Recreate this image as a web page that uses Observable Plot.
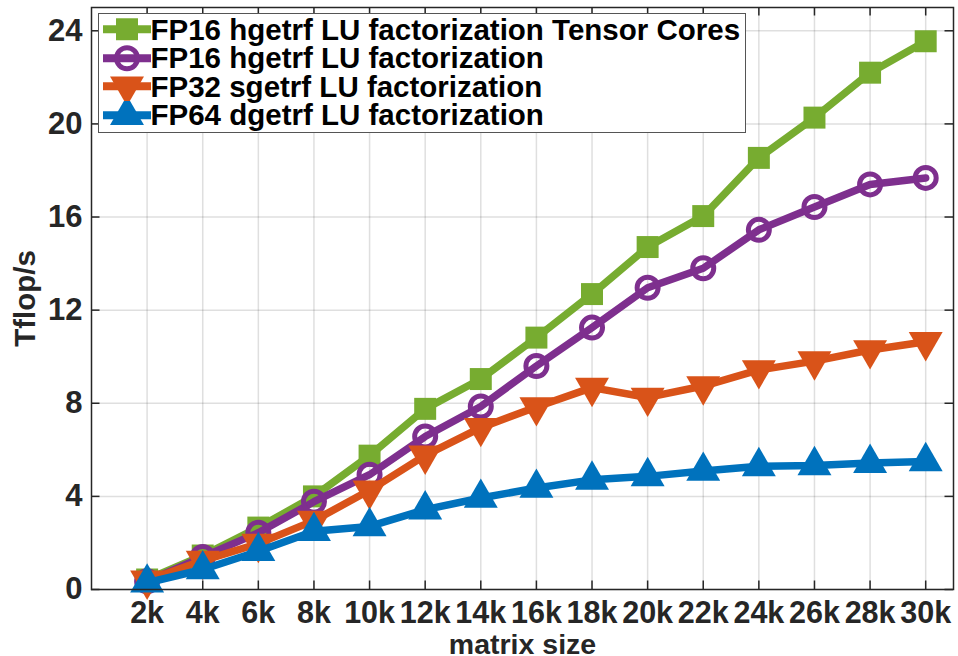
<!DOCTYPE html>
<html><head><meta charset="utf-8">
<script src="https://cdn.jsdelivr.net/npm/d3@7"></script>
<script src="https://cdn.jsdelivr.net/npm/@observablehq/plot@0.6"></script>
<style>
body{margin:0;background:#fff;}
#wrap{position:relative;width:958px;height:656px;font-family:"Liberation Sans",Arial,Helvetica,sans-serif;}
#legend{position:absolute;left:98px;top:13px;width:648px;height:120px;box-sizing:border-box;border:1.5px solid #555;background:#fff;}
.row{position:absolute;left:3.5px;height:28.5px;display:flex;align-items:center;}
.row span{font-size:29.5px;font-weight:bold;color:#000;white-space:nowrap;line-height:28px;}
.row svg{display:block;flex:none;}
</style></head><body><div id="wrap"></div>
<script>
// matrix size (k)
const sizes = [2, 4, 6, 8, 10, 12, 14, 16, 18, 20, 22, 24, 26, 28, 30];
// Tflop/s
const tensorCores = [0.43, 1.46, 2.66, 4.0, 5.75, 7.76, 9.04, 10.82, 12.69, 14.71, 16.04, 18.54, 20.27, 22.2, 23.55];
const hgetrf = [0.35, 1.4, 2.44, 3.77, 4.93, 6.57, 7.86, 9.6, 11.25, 12.96, 13.8, 15.45, 16.43, 17.4, 17.68];
const sgetrf = [0.39, 1.24, 1.97, 2.96, 4.26, 5.76, 6.95, 7.84, 8.67, 8.25, 8.74, 9.43, 9.81, 10.29, 10.64];
const dgetrf = [0.29, 0.86, 1.64, 2.5, 2.71, 3.43, 3.93, 4.36, 4.71, 4.86, 5.09, 5.29, 5.33, 5.43, 5.5];

const seriesNames = [
  "FP16 hgetrf LU factorization Tensor Cores",
  "FP16 hgetrf LU factorization",
  "FP32 sgetrf LU factorization",
  "FP64 dgetrf LU factorization"
];
const seriesValues = [tensorCores, hgetrf, sgetrf, dgetrf];
const seriesColors = ["#77AC30", "#7E2F8E", "#D95319", "#0072BD"];
const xTicks = [2, 4, 6, 8, 10, 12, 14, 16, 18, 20, 22, 24, 26, 28, 30];
const xTickLabels = ["2k","4k","6k","8k","10k","12k","14k","16k","18k","20k","22k","24k","26k","28k","30k"];
const yTicks = [0, 4, 8, 12, 16, 20, 24];

const W = 958, H = 656;
const mL = 91, mR = 5, mT = 7, mB = 67;
const plotW = W - mL - mR, plotH = H - mT - mB;
const tickLen = 8.5;
const axisColor = "#262626";

const styles = [
  {symbol: "square", r: 12.4, fill: seriesColors[0], stroke: "none"},
  {symbol: "circle", r: 10.5, fill: "none", stroke: seriesColors[1], strokeWidth: 5},
  {symbol: "triangle", r: 12.6, fill: seriesColors[2], stroke: "none", rotate: 180},
  {symbol: "triangle", r: 12.6, fill: seriesColors[3], stroke: "none"}
];

const seriesMarks = [];
seriesValues.forEach((vals, i) => {
  const rows = sizes.map((s, j) => ({size: s, value: vals[j]}));
  seriesMarks.push(Plot.line(rows, {x: "size", y: "value", stroke: seriesColors[i], strokeWidth: 7.5, strokeLinejoin: "round", strokeLinecap: "round"}));
  seriesMarks.push(Plot.dot(rows, {x: "size", y: "value", ...styles[i]}));
});

const chart = Plot.plot({
  width: W, height: H,
  marginLeft: mL, marginRight: mR, marginTop: mT, marginBottom: mB,
  style: {fontFamily: "'Liberation Sans', Arial, Helvetica, sans-serif", color: axisColor, background: "#fff"},
  x: {domain: [0, 31], label: null},
  y: {domain: [0, 25], label: null},
  marks: [
    Plot.gridX(xTicks, {stroke: axisColor, strokeOpacity: 0.15, strokeWidth: 1.5}),
    Plot.gridY(yTicks, {stroke: axisColor, strokeOpacity: 0.15, strokeWidth: 1.5}),
    Plot.gridX(xTicks, {stroke: axisColor, strokeOpacity: 1, strokeWidth: 1.5, insetTop: plotH - tickLen}),
    Plot.gridX(xTicks, {stroke: axisColor, strokeOpacity: 1, strokeWidth: 1.5, insetBottom: plotH - tickLen}),
    Plot.gridY(yTicks, {stroke: axisColor, strokeOpacity: 1, strokeWidth: 1.5, insetRight: plotW - tickLen}),
    Plot.gridY(yTicks, {stroke: axisColor, strokeOpacity: 1, strokeWidth: 1.5, insetLeft: plotW - tickLen}),
    Plot.axisX(xTicks, {tickSize: 0, tickPadding: 12, tickFormat: d => xTickLabels[xTicks.indexOf(d)], fontSize: 30.5, fontWeight: "bold", label: null}),
    Plot.axisY(yTicks, {tickSize: 0, tickPadding: 9, fontSize: 31, fontWeight: "bold", label: null}),
    Plot.text(["Tflop/s"], {frameAnchor: "left", dx: -66, rotate: -90, textAnchor: "middle", fontSize: 29.5, fontWeight: "bold", lineAnchor: "middle", fill: axisColor}),
    Plot.text(["matrix size"], {frameAnchor: "bottom", dy: 64, textAnchor: "middle", lineAnchor: "bottom", fontSize: 28.5, fontWeight: "bold", fill: axisColor}),
    ...seriesMarks,
    Plot.frame({stroke: axisColor, strokeWidth: 1.5})
  ]
});

const wrap = document.getElementById("wrap");
wrap.appendChild(chart);

// legend overlay
const legend = document.createElement("div");
legend.id = "legend";
wrap.appendChild(legend);
const rowCenters = [30, 58.5, 87, 115.5];
seriesNames.forEach((name, i) => {
  const row = document.createElement("div");
  row.className = "row";
  row.style.top = (rowCenters[i] - 28.75) + "px";
  const sw = d3.create("svg").attr("width", 48).attr("height", 28.5);
  sw.append("line").attr("x1", 0).attr("x2", 48).attr("y1", 14.25).attr("y2", 14.25)
    .attr("stroke", seriesColors[i]).attr("stroke-width", 8);
  const st = styles[i];
  const symMap = {square: d3.symbolSquare, circle: d3.symbolCircle, triangle: d3.symbolTriangle};
  const path = d3.symbol(symMap[st.symbol], Math.PI * st.r * st.r)();
  sw.append("path").attr("d", path)
    .attr("transform", `translate(24,14.25) rotate(${st.rotate || 0})`)
    .attr("fill", st.fill).attr("stroke", st.stroke).attr("stroke-width", st.strokeWidth || 0);
  row.appendChild(sw.node());
  const span = document.createElement("span");
  span.textContent = name;
  row.appendChild(span);
  legend.appendChild(row);
});
</script>
</body></html>
